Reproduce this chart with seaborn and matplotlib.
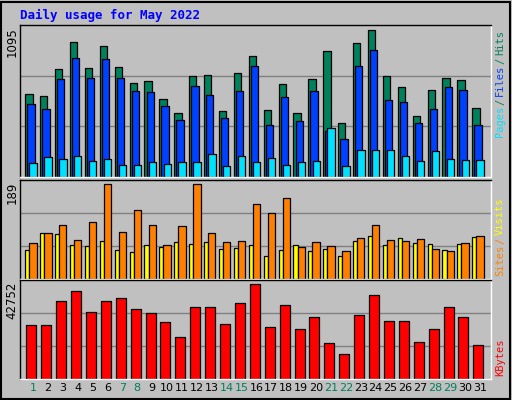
import numpy as np
import pandas as pd
import matplotlib
matplotlib.use("Agg")
import matplotlib.pyplot as plt
import seaborn as sns

days = list(range(1, 32))
hits = [600,586,780,975,788,946,795,680,694,564,463,730,737,478,752,874,485,672,463,708,910,391,968,1061,730,651,442,629,716,701,499]
files = [528,492,708,860,716,852,716,622,615,514,413,658,593,427,622,802,377,579,406,622,329,276,802,917,557,543,391,492,651,629,377]
pages = [103,146,132,154,118,132,89,89,110,96,110,110,168,82,154,110,139,89,110,118,355,82,197,197,197,154,118,190,132,125,125]
visits = [69,88,103,74,109,181,90,132,103,65,101,181,88,71,73,143,126,155,61,71,63,53,78,103,74,73,76,57,53,69,82]
sites = [55,88,86,65,63,73,55,52,65,61,71,67,71,57,59,65,44,55,65,53,57,44,73,82,65,78,69,67,55,67,80]
kbytes = [23264,23264,33733,38095,28935,33733,35041,30243,28498,24573,18030,31116,31116,23700,32860,41148,22392,31988,21519,26754,15412,10614,27626,36350,25009,25009,15849,21519,31116,26754,14540]
weekend = [1,7,8,14,15,21,22,28,29]
title = "Daily usage for May 2022"

sns.set_style("white")
plt.rcParams['font.family'] = ['DejaVu Sans Mono', 'DejaVu Sans']
BG = "#C0C0C0"
W, H = 512, 400
fig = plt.figure(figsize=(5.12, 4.0), dpi=100, facecolor=BG)

def add_ax(top, bottom):
    ax = fig.add_axes([20/W, 1-bottom/H, 471/W, (bottom-top)/H])
    ax.set_facecolor(BG)
    for s in ["top", "left"]:
        ax.spines[s].set_color("black")
    for s in ["bottom", "right"]:
        ax.spines[s].set_color("white")
    for s in ax.spines.values():
        s.set_linewidth(1)
    return ax

def bars(ax, vals, off, width, color):
    df = pd.DataFrame({"x": np.array(days) + off, "y": vals})
    sns.barplot(data=df, x="x", y="y", native_scale=True, width=width,
                color=color, edgecolor="black", linewidth=0.9, saturation=1, ax=ax)

XMIN, XMAX = 0.13, 31.74

def finish(ax, ymax, label, top):
    ax.set_xlim(XMIN, XMAX)
    ax.set_ylim(0, ymax)
    for g in (ymax/3, 2*ymax/3):
        ax.axhline(g, color="#808080", lw=1, zorder=0)
    ax.set_xticks([]); ax.set_yticks([])
    ax.set_xlabel(""); ax.set_ylabel("")
    fig.text(12/W, 1-(top+2)/H, label, rotation=90, ha="center", va="top",
             fontsize=8.5, color="black", family="DejaVu Sans")

ax1 = add_ax(25, 177)
bars(ax1, hits, -0.27, 0.49, "#00805C")
bars(ax1, files, -0.13, 0.49, "#0040FF")
bars(ax1, pages, 0.01, 0.49, "#00E0FF")
finish(ax1, 1095, "1095", 25)

ax2 = add_ax(180, 279)
bars(ax2, sites, -0.38, 0.27, "#FFFF00")
bars(ax2, visits, 0.0, 0.49, "#FF8000")
finish(ax2, 189, "189", 180)

ax3 = add_ax(280, 379)
bars(ax3, kbytes, -0.11, 0.67, "#FF0000")
finish(ax3, 42752, "42752", 280)

for d in days:
    ax3.text(d, -0.04, str(d), transform=ax3.get_xaxis_transform(), ha="center",
             va="top", fontsize=8, family="DejaVu Sans",
             color="#00805C" if d in weekend else "black")

fig.text(20/W, 1-15/H, title, color="#0000FF", fontsize=9, fontweight="bold",
         va="center", ha="left")

def side(parts, ybottom):
    y = ybottom
    for txt, col in parts:
        fig.text(500/W, 1-y/H, txt, rotation=90, color=col, fontsize=7.5,
                 ha="center", va="bottom")
        y -= len(txt) * 5.8 + 3
side([("Pages", "#00E0FF"), ("/", "#00805C"), ("Files", "#0040FF"), ("/", "#00805C"), ("Hits", "#00805C")], 137)
side([("Sites", "#FF8000"), ("/", "#FF8000"), ("Visits", "#FFFF00")], 276)
side([("KBytes", "#FF0000")], 376)

fig.patches.append(plt.Rectangle((1/W, 1/H), 1-3/W, 1-3/H, transform=fig.transFigure,
                                 fill=False, edgecolor="black", lw=1.5))
fig.savefig("out.png", dpi=100, facecolor=BG)
